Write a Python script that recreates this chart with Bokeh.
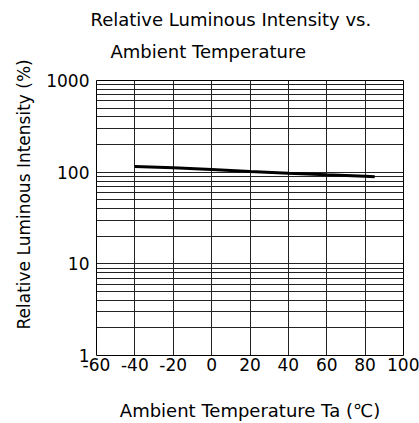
from bokeh.plotting import figure
from bokeh.models import FixedTicker, PrintfTickFormatter, Title
from bokeh.embed import file_html
from bokeh.resources import INLINE

# data
temps = [-40, -20, 0, 20, 40, 60, 80, 85]
intensity = [115, 112, 107, 102, 97.5, 93.5, 90, 89]
x_ticks = [-60, -40, -20, 0, 20, 40, 60, 80, 100]
y_ticks = [1, 10, 100, 1000]
title_lines = ["Relative Luminous Intensity vs.", "Ambient Temperature"]
x_label = "Ambient Temperature Ta (\u2103)"
y_label = "Relative Luminous Intensity (%)"

FONT = "DejaVu Sans"

y_minor = [d * k for d in [1, 10, 100] for k in range(2, 10)]

p = figure(width=419, height=423, output_backend="svg", toolbar_location=None,
           x_range=(-60, 100), y_range=(1, 1000), y_axis_type="log",
           min_border_left=96, min_border_right=16, min_border_top=80,
           min_border_bottom=67)

p.line(temps, intensity, line_color="black", line_width=3)

# two-line title
t2 = Title(text=title_lines[1], align="left", offset=14, standoff=37,
           text_font=FONT, text_font_size="18px", text_font_style="normal",
           text_color="black")
t1 = Title(text=title_lines[0], align="left", offset=-6, standoff=-19,
           text_font=FONT, text_font_size="18px", text_font_style="normal",
           text_color="black")
p.add_layout(t2, "above")
p.add_layout(t1, "above")

# y axis label as a side title (allows offset along the axis)
ty = Title(text=y_label, align="left", offset=26, standoff=19,
           text_font=FONT, text_font_size="17px", text_font_style="normal",
           text_color="black")
p.add_layout(ty, "left")

p.outline_line_color = "black"
p.outline_line_width = 1

p.xaxis.ticker = FixedTicker(ticks=x_ticks)
p.yaxis.ticker = FixedTicker(ticks=y_ticks, minor_ticks=y_minor)
p.xaxis.formatter = PrintfTickFormatter(format="%d")
p.yaxis.formatter = PrintfTickFormatter(format="%d")
p.xgrid.ticker = FixedTicker(ticks=x_ticks)
p.ygrid.ticker = FixedTicker(ticks=y_ticks, minor_ticks=y_minor)

for g in (p.xgrid, p.ygrid):
    g.grid_line_color = "#222222"
    g.grid_line_width = 1
    g.grid_line_alpha = 1
p.ygrid.minor_grid_line_color = "#222222"
p.ygrid.minor_grid_line_width = 1

for ax in (p.xaxis, p.yaxis):
    ax.axis_line_color = None
    ax.major_tick_line_color = None
    ax.minor_tick_line_color = None
    ax.major_label_text_font = FONT
    ax.major_label_text_font_size = "17px"
    ax.major_label_text_color = "black"
    ax.axis_label_text_font = FONT
    ax.axis_label_text_font_style = "normal"
    ax.axis_label_text_color = "black"

p.xaxis.axis_label = x_label
p.xaxis.axis_label_text_font_size = "18px"
p.xaxis.major_label_standoff = -4
p.xaxis.axis_label_standoff = 26
p.yaxis.major_label_standoff = 1

open("out.html", "w").write(file_html(p, INLINE))
